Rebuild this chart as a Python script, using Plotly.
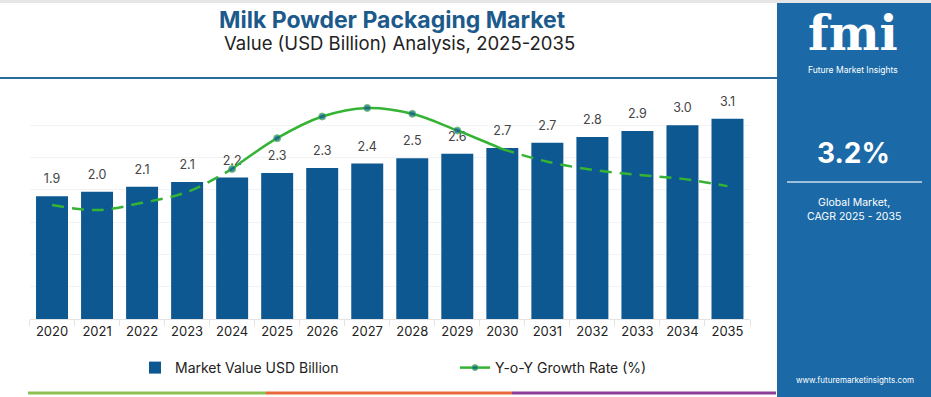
import plotly.graph_objects as go

years = [str(y) for y in range(2020, 2036)]
market_value = [1.9, 1.97, 2.05, 2.12, 2.19, 2.26, 2.34, 2.41, 2.49, 2.56, 2.65, 2.73, 2.82, 2.91, 3.0, 3.1]
value_labels = ["1.9", "2.0", "2.1", "2.1", "2.2", "2.3", "2.3", "2.4", "2.5", "2.6",
                "2.7", "2.7", "2.8", "2.9", "3.0", "3.1"]
growth_rate = [2.52, 2.41, 2.57, 2.81, 3.32, 4.0, 4.48, 4.67, 4.54, 4.17,
               3.76, 3.48, 3.30, 3.19, 3.10, 2.94]

BAR = "#0e5892"
GREEN = "#34b334"
PANEL = "#1b6aa7"
FONT = "Inter"

W, H = 931, 397
def px(x): return x / W
def py(y): return 1 - y / H

fig = go.Figure()

fig.add_trace(go.Bar(
    x=years, y=market_value, name="Market Value USD Billion",
    marker=dict(color=BAR, line=dict(width=0)),
))

# value labels above bars
fig.add_trace(go.Scatter(
    x=years, y=market_value, mode="markers+text", text=value_labels,
    textposition="top center", marker=dict(size=14, color="rgba(0,0,0,0)"),
    textfont=dict(size=12.5, color="#444444", family=FONT),
    showlegend=False, hoverinfo="skip", cliponaxis=False,
))

# growth rate segments
fig.add_trace(go.Scatter(
    x=years[0:5], y=growth_rate[0:5], yaxis="y2", mode="lines",
    line=dict(color=GREEN, width=2.5, shape="spline", dash="12px,8px"),
    showlegend=False, hoverinfo="skip",
))
fig.add_trace(go.Scatter(
    x=years[4:11], y=growth_rate[4:11], yaxis="y2", mode="lines+markers",
    name="Y-o-Y Growth Rate (%)",
    line=dict(color=GREEN, width=2.5, shape="spline"),
    marker=dict(color=BAR, size=[7, 7, 7, 7, 7, 7, 0]),
))
fig.add_trace(go.Scatter(
    x=years[10:], y=growth_rate[10:], yaxis="y2", mode="lines",
    line=dict(color=GREEN, width=2.5, shape="spline", dash="12px,8px"),
    showlegend=False, hoverinfo="skip",
))

shapes = [
    dict(type="rect", xref="paper", yref="paper", x0=px(777), x1=1, y0=0, y1=py(3),
         fillcolor=PANEL, line=dict(width=0), layer="below"),
    dict(type="rect", xref="paper", yref="paper", x0=0, x1=1, y0=py(3), y1=1,
         fillcolor="#e6e6e6", line=dict(width=0), layer="below"),
    dict(type="line", xref="paper", yref="paper", x0=0, x1=px(777), y0=py(78), y1=py(78),
         line=dict(color="#2c6a99", width=2)),
    dict(type="line", xref="paper", yref="paper", x0=px(787), x1=px(922), y0=py(182), y1=py(182),
         line=dict(color="#c9dcec", width=1.5)),
    dict(type="line", xref="paper", yref="paper", x0=px(28), x1=px(266), y0=py(393), y1=py(393),
         line=dict(color="#8cc152", width=3)),
    dict(type="line", xref="paper", yref="paper", x0=px(266), x1=px(512), y0=py(393), y1=py(393),
         line=dict(color="#e8683a", width=3)),
    dict(type="line", xref="paper", yref="paper", x0=px(512), x1=px(776), y0=py(393), y1=py(393),
         line=dict(color="#8e3e9a", width=3)),
]

def ann(text, x, y, size, color, family=FONT):
    return dict(text=text, x=px(x), y=py(y), xref="paper", yref="paper",
                xanchor="center", yanchor="middle", showarrow=False,
                font=dict(size=size, color=color, family=family))

annotations = [
    ann("<b>Milk Powder Packaging Market</b>", 392, 20, 23, "#1c5a8c"),
    ann("Value (USD Billion) Analysis, 2025-2035", 399, 43, 18.5, "#222222"),
    ann("<b>fmi</b>", 853, 33, 48, "white", "DejaVu Serif"),
    ann("Future Market Insights", 853, 70, 8.5, "white"),
    ann("<b>3.2%</b>", 853, 153, 28, "white"),
    ann("Global Market,<br>CAGR 2025 - 2035", 854, 209, 10.5, "white"),
    ann("www.futuremarketinsights.com", 855, 380, 8, "white"),
]

fig.update_layout(
    width=W, height=H,
    margin=dict(l=0, r=0, t=0, b=0),
    paper_bgcolor="white", plot_bgcolor="white",
    bargap=0.29,
    font=dict(family=FONT, color="#333333"),
    xaxis=dict(domain=[px(29.5), px(750)], type="category", range=[-0.5, 15.5],
               showline=True, linecolor="#e3e3e3", linewidth=1,
               ticks="outside", tickson="boundaries", ticklen=6, tickcolor="#e3e3e3",
               tickfont=dict(size=13, color="#222222", family=FONT), showgrid=False),
    yaxis=dict(domain=[py(319), py(93)], range=[0, 3.5], dtick=0.5,
               showgrid=True, gridcolor="#f3f3f3", showticklabels=False, zeroline=False),
    yaxis2=dict(overlaying="y", range=[0, 5], visible=False),
    legend=dict(orientation="h", x=px(135), y=py(368), xanchor="left", yanchor="middle",
                entrywidth=275, entrywidthmode="pixels", bgcolor="rgba(0,0,0,0)",
                font=dict(size=14, color="#222222", family=FONT), itemwidth=30),
    shapes=shapes, annotations=annotations,
)

fig.write_html("out.html", config={"displayModeBar": False},
               post_script="document.body.style.margin='0';document.body.style.overflow='hidden';")
